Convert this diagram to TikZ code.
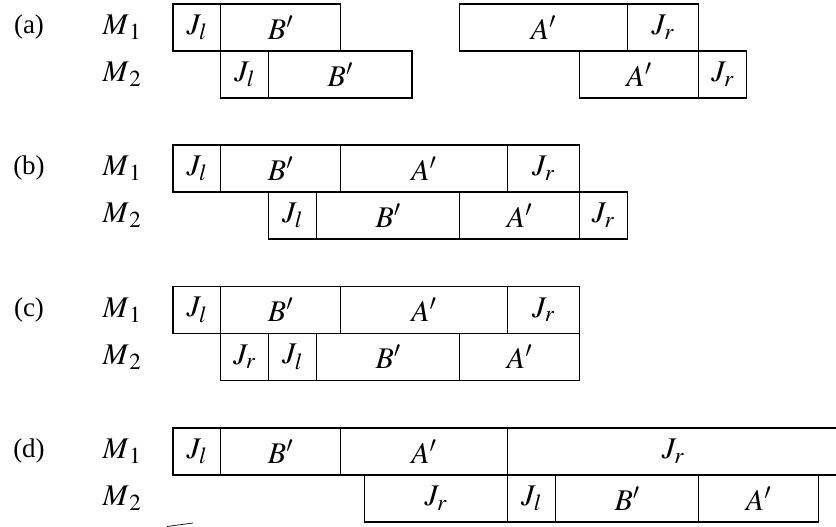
\documentclass[tikz,border=0pt]{standalone}
\usepackage{mathptmx}
\usepackage{fontspec}
\setmainfont{Liberation Serif}
\usetikzlibrary{positioning}

\DeclareMathSizes{27}{30}{23}{18}
\newcommand{\tunit}{23.9pt}

\begin{document}
\begin{tikzpicture}[x=1pt, y=-1pt, node distance=0pt,
  font=\fontsize{27}{32}\selectfont,
  task/.style={draw, line width=1.1pt, minimum height=47pt, minimum width=#1*\tunit, inner sep=0pt, outer sep=0pt},
  first/.style={task=#1, anchor=west}]
\useasboundingbox (0,0) rectangle (836,527);

% (a)
\node (alab) at (29,27.5) {(a)};
\node (am1) at (122,27.5) {$M_{\,1}$};
\node (am2) at (122,74.5) {$M_{\,2}$};
\node (aJl1) [first=2] at (173,27.5) {$J_l$};
\node (aB1) [task=5, right=of aJl1] {$B'$};
\node (aA1) [first=7] at ({173+12*23.9},27.5) {$A'$};
\node (aJr1) [task=3, right=of aA1] {$J_r$};
\node (aJl2) [first=2] at ({173+2*23.9},74.5) {$J_l$};
\node (aB2) [task=6, right=of aJl2] {$B'$};
\node (aA2) [first=5] at ({173+17*23.9},74.5) {$A'$};
\node (aJr2) [task=2, right=of aA2] {$J_r$};

% (b)
\node (blab) at (29,168.5) {(b)};
\node (bm1) at (122,168.5) {$M_{\,1}$};
\node (bm2) at (122,215.5) {$M_{\,2}$};
\node (bJl1) [first=2] at (173,168.5) {$J_l$};
\node (bB1) [task=5, right=of bJl1] {$B'$};
\node (bA1) [task=7, right=of bB1] {$A'$};
\node (bJr1) [task=3, right=of bA1] {$J_r$};
\node (bJl2) [first=2] at ({173+4*23.9},215.5) {$J_l$};
\node (bB2) [task=6, right=of bJl2] {$B'$};
\node (bA2) [task=5, right=of bB2] {$A'$};
\node (bJr2) [task=2, right=of bA2] {$J_r$};

% (c)
\node (clab) at (29,310) {(c)};
\node (cm1) at (122,310) {$M_{\,1}$};
\node (cm2) at (122,357) {$M_{\,2}$};
\node (cJl1) [first=2] at (173,310) {$J_l$};
\node (cB1) [task=5, right=of cJl1] {$B'$};
\node (cA1) [task=7, right=of cB1] {$A'$};
\node (cJr1) [task=3, right=of cA1] {$J_r$};
\node (cJr2) [first=2] at ({173+2*23.9},357) {$J_r$};
\node (cJl2) [task=2, right=of cJr2] {$J_l$};
\node (cB2) [task=6, right=of cJl2] {$B'$};
\node (cA2) [task=5, right=of cB2] {$A'$};

% (d)
\node (dlab) at (29,451.5) {(d)};
\node (dm1) at (122,451.5) {$M_{\,1}$};
\node (dm2) at (122,498.5) {$M_{\,2}$};
\node (dJl1) [first=2] at (173,451.5) {$J_l$};
\node (dB1) [task=5, right=of dJl1] {$B'$};
\node (dA1) [task=7, right=of dB1] {$A'$};
\node (dJr1) [task=13.85, right=of dA1] {$J_r$};
\node (dJr2) [first=6] at ({173+8*23.9},498.5) {$J_r$};
\node (dJl2) [task=2, right=of dJr2] {$J_l$};
\node (dB2) [task=6, right=of dJl2] {$B'$};
\node (dA2) [task=5, right=of dB2] {$A'$};

\draw[line width=0.7pt] (167,526.5) -- (193,523);
\end{tikzpicture}
\end{document}
